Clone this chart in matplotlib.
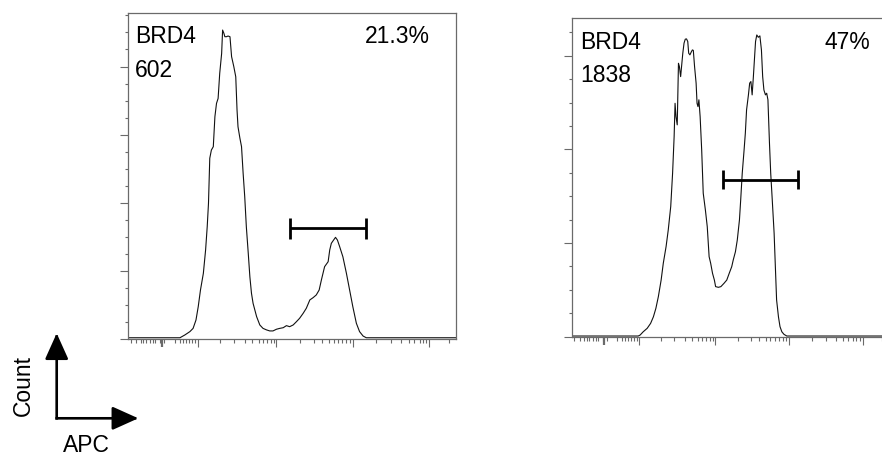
import matplotlib
matplotlib.use("Agg")
import matplotlib.pyplot as plt
from matplotlib.patches import FancyArrowPatch

plt.rcParams['font.family'] = ['Liberation Sans', 'DejaVu Sans']

# histogram traces, x in display channels (0-1024, logicle axis), y in counts
left_ch = [0, 162, 177, 193, 203, 212, 219, 226, 235, 242, 247, 251, 255, 260, 266, 271,
           276, 281, 286, 292, 295, 299, 302, 307, 312, 318, 323, 330, 336, 340, 343, 349,
           354, 359, 364, 369, 375, 380, 385, 390, 401, 411, 421, 432, 442, 452, 463, 473,
           484, 494, 504, 515, 525, 535, 546, 556, 567, 577, 587, 596, 603, 608, 613, 624,
           629, 634, 641, 647, 653, 660, 670, 681, 691, 701, 712, 722, 733, 743, 1024]
left_count = [0.9, 0.9, 2.5, 4.5, 6.4, 11.3, 19.1, 28.9, 38.7, 52.4, 66.0, 79.8, 106.2, 111.0, 113.0, 130.6,
              138.4, 141.3, 156.0, 167.7, 181.4, 179.5, 177.5, 177.5, 177.9, 177.5, 165.8, 159.9, 154.0, 134.5, 124.7, 117.9,
              113.0, 97.4, 83.6, 66.0, 50.4, 36.7, 27.0, 21.1, 13.3, 8.4, 6.4, 5.5, 4.9, 4.9, 5.9, 6.4,
              6.8, 8.0, 7.4, 8.4, 10.3, 12.3, 15.2, 18.2, 23.1, 24.4, 26.0, 28.9, 34.8, 38.7, 42.6, 45.5,
              52.4, 56.3, 58.2, 59.8, 58.2, 54.3, 48.4, 38.7, 28.9, 19.1, 9.4, 4.5, 1.9, 0.9, 0.9]

right_ch = [0, 214, 220, 230, 243, 254, 263, 271, 279, 288, 295, 304, 311, 319, 325, 330,
            333, 336, 340, 344, 347, 351, 354, 358, 362, 366, 370, 374, 377, 381, 386, 389,
            392, 396, 401, 404, 407, 410, 414, 419, 424, 431, 437, 443, 448, 454, 460, 464,
            473, 481, 491, 500, 508, 516, 521, 528, 534, 541, 545, 550, 556, 560, 564, 570,
            574, 578, 582, 586, 590, 593, 597, 602, 607, 612, 616, 620, 625, 629, 633, 638,
            642, 647, 653, 657, 661, 667, 672, 678, 685, 694, 1024]
right_count = [0.3, 0.3, 0.7, 2.1, 3.6, 5.7, 8.5, 12.1, 17.1, 24.2, 31.4, 38.5, 45.6, 55.6, 69.8, 85.5,
               99.7, 94.0, 90.5, 116.8, 115.4, 111.1, 115.4, 121.1, 125.4, 127.1, 127.2, 126.1, 121.1, 120.4, 121.8, 122.5,
               122.3, 115.4, 108.3, 99.7, 98.3, 101.2, 94.0, 79.8, 61.3, 54.1, 47.0, 34.2, 31.4, 27.1, 24.2, 21.4,
               21.1, 21.4, 22.8, 24.2, 27.1, 29.9, 32.8, 36.3, 41.3, 49.9, 58.4, 69.8, 79.8, 86.9, 96.9, 103.3,
               108.3, 109.0, 103.3, 111.1, 119.7, 126.1, 128.9, 127.9, 128.5, 122.5, 111.1, 105.4, 103.3, 104.0, 101.2, 82.6,
               69.8, 58.4, 44.2, 29.9, 15.7, 8.5, 4.3, 2.1, 1.0, 0.3, 0.3]

# gates: start, end, height (channels / counts)
left_gate = [504, 743, 65]
right_gate = [487, 730, 67]

# logicle axis ticks (channels)
x_major = [105, 217, 463, 701, 940]
x_minor = [8, 25, 40, 48, 56, 69, 77, 84, 100, 112, 146, 162, 170, 181, 190, 200, 209,
           286, 331, 364, 388, 408, 421, 434, 445, 454,
           535, 579, 604, 626, 641, 655, 668, 681, 691,
           774, 819, 852, 876, 893, 909, 919, 930, 1002]

marker_name = "BRD4"
left_mfi, right_mfi = "602", "1838"
left_pct, right_pct = "21.3%", "47%"

frame_col = "#6a6a6a"

fig = plt.figure(figsize=(8.82, 4.58), dpi=100)
ax1 = fig.add_axes([0.1451, 0.2592, 0.3724, 0.7124])
ax2 = fig.add_axes([0.6485, 0.2648, 0.3594, 0.6952])


def style_panel(ax, ymax, ymaj, ymin_ticks):
    ax.set_xlim(0, 1024)
    ax.set_ylim(0, ymax)
    ax.set_xticks(x_major)
    ax.set_xticks(x_minor, minor=True)
    ax.set_yticks(ymaj)
    ax.set_yticks(ymin_ticks, minor=True)
    ax.set_xticklabels([])
    ax.set_yticklabels([])
    for s in ax.spines.values():
        s.set_color(frame_col)
        s.set_linewidth(0.9)
    ax.tick_params(which='both', direction='out', color=frame_col, width=0.8,
                   top=False, right=False)
    ax.tick_params(axis='x', which='major', length=5.5)
    ax.tick_params(axis='x', which='minor', length=3)
    ax.tick_params(axis='y', which='major', length=6)
    ax.tick_params(axis='y', which='minor', length=2.5)
    # the zero tick looks heavier
    ax.xaxis.get_major_ticks()[0].tick1line.set_markeredgewidth(1.6)


def draw_gate(ax, gate, cap):
    x0, x1, h = gate
    ax.plot([x0, x1], [h, h], color='black', lw=2, solid_capstyle='butt')
    ax.vlines([x0, x1], h - cap, h + cap, color='black', lw=2)


style_panel(ax1, 191.4, [0, 40, 80, 120, 160], list(range(0, 191, 10)))
style_panel(ax2, 136.0, [0, 40, 80, 120], list(range(0, 136, 10)))
ax2.spines['right'].set_visible(False)

ax1.plot(left_ch, left_count, color='#111111', lw=0.8)
ax2.plot(right_ch, right_count, color='#111111', lw=0.8)

draw_gate(ax1, left_gate, 5.9)
draw_gate(ax2, right_gate, 4.0)

fs = 16.5
ax1.text(0.021, 0.908, marker_name, transform=ax1.transAxes, fontsize=fs, va='baseline', ha='left')
ax1.text(0.021, 0.803, left_mfi, transform=ax1.transAxes, fontsize=fs, va='baseline', ha='left')
ax1.text(0.919, 0.908, left_pct, transform=ax1.transAxes, fontsize=fs, va='baseline', ha='right')
ax2.text(0.027, 0.903, marker_name, transform=ax2.transAxes, fontsize=fs, va='baseline', ha='left')
ax2.text(0.027, 0.801, right_mfi, transform=ax2.transAxes, fontsize=fs, va='baseline', ha='left')
ax2.text(0.940, 0.903, right_pct, transform=ax2.transAxes, fontsize=fs, va='baseline', ha='right')

# axis key arrows
corner = (56.7 / 882, 1 - 418.3 / 458)
up_tip = (56.7 / 882, 1 - 333.3 / 458)
right_tip = (138.3 / 882, 1 - 418.3 / 458)
for tip in (up_tip, right_tip):
    arr = FancyArrowPatch(corner, tip, transform=fig.transFigure,
                          arrowstyle='-|>,head_length=0.8,head_width=0.36',
                          mutation_scale=20, shrinkA=0, shrinkB=0,
                          lw=1.9, color='black', capstyle='projecting')
    fig.add_artist(arr)

fig.text(23 / 882, 1 - 385 / 458, "Count", rotation=90, fontsize=fs, ha='center', va='center')
fig.text(86.7 / 882, 1 - 445 / 458, "APC", fontsize=fs, ha='center', va='center')

fig.savefig("out.png", dpi=100)
